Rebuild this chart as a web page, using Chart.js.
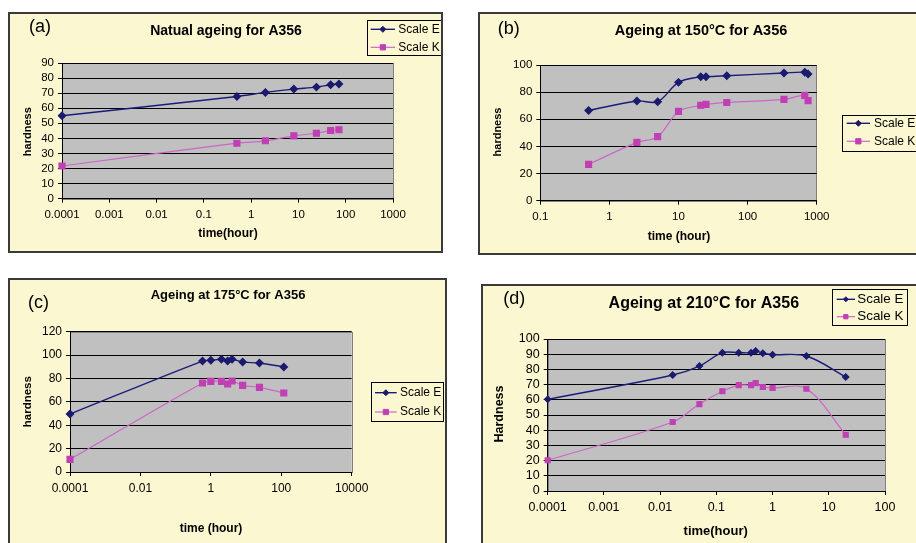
<!DOCTYPE html>
<html>
<head>
<meta charset="utf-8">
<script src="https://cdn.jsdelivr.net/npm/chart.js@4.4.0/dist/chart.umd.min.js"></script>
<style>
  body { margin: 0; width: 916px; height: 543px; overflow: hidden; background: #fff; position: relative; }
  .frame { position: absolute; border: 2px solid #3a3a3a; background: #fbf7d0; box-sizing: border-box; }
  .frame canvas { position: absolute; left: 0; top: 0; }
</style>
</head>
<body>
<div class="frame" id="fa"><canvas id="ca"></canvas></div>
<div class="frame" id="fb"><canvas id="cb"></canvas></div>
<div class="frame" id="fc"><canvas id="cc"></canvas></div>
<div class="frame" id="fd"><canvas id="cd"></canvas></div>
<script>
// (a) natural ageing
const timeA = [0.0001, 0.5, 2, 8, 24, 48, 72];
const scaleEA = [55, 67.8, 70.5, 72.7, 74, 75.6, 76];
const scaleKA = [21.7, 36.8, 38.4, 41.7, 43.4, 45.2, 45.7];
const xTicksA = [0.0001, 0.001, 0.01, 0.1, 1, 10, 100, 1000];

// (b) 150°C
const timeB = [0.5, 2.5, 5, 10, 21, 25, 50, 336, 672, 750];
const scaleEB = [66.5, 73.5, 73, 87.2, 91.4, 91.4, 92.1, 94.1, 94.7, 93.3];
const scaleKB = [26.8, 43, 47.2, 65.8, 70.3, 71, 72.4, 74.7, 77.6, 73.7];
const xTicksB = [0.1, 1, 10, 100, 1000];

// (c) 175°C
const timeC = [0.0001, 0.58, 1, 2, 3, 4, 8, 24, 118];
const scaleEC = [49.6, 94.9, 95.5, 96.4, 94.9, 96.4, 94, 93.2, 89.8];
const scaleKC = [10.8, 76.1, 77.5, 77.5, 75.3, 77.8, 74.1, 72.4, 67.6];
const xTicksC = [0.0001, 0.01, 1, 100, 10000];

// (d) 210°C
const timeD = [0.0001, 0.0167, 0.05, 0.128, 0.25, 0.414, 0.5, 0.67, 1, 4, 20];
const scaleED = [60.3, 76.3, 82.2, 91, 91, 91, 92.1, 90.6, 89.7, 88.8, 75];
const scaleKD = [20.2, 45.4, 57.2, 65.6, 69.7, 69.7, 71, 68.4, 67.8, 67.3, 37];
const xTicksD = [0.0001, 0.001, 0.01, 0.1, 1, 10, 100];

const seriesNames = ['Scale E', 'Scale K'];

Chart.defaults.font.family = '"Liberation Sans", Arial, sans-serif';
Chart.defaults.color = '#000';

const E_LINE = '#1c1c78', E_PT = '#1a1a6e';
const K_LINE = '#cc66c8', K_PT = '#c040b4';

// plot background, texts and the free-standing legend box
const decor = {
  id: 'decor',
  beforeDraw(chart, args, o) {
    const a = chart.chartArea, c = chart.ctx;
    c.save();
    c.fillStyle = '#c0c0c0';
    c.fillRect(a.left, a.top, a.right - a.left, a.bottom - a.top);
    c.strokeStyle = '#808080';
    c.lineWidth = 1;
    c.strokeRect(Math.round(a.left) + 0.5, Math.round(a.top) + 0.5, Math.round(a.right - a.left), Math.round(a.bottom - a.top));
    c.restore();
  },
  afterDraw(chart, args, o) {
    const c = chart.ctx, ox = o.ox, oy = o.oy;
    const F = '"Liberation Sans", Arial, sans-serif';
    c.save();
    c.fillStyle = '#000';
    c.textBaseline = 'middle';
    // panel label
    c.font = '18px ' + F;
    c.textAlign = 'left';
    c.fillText(o.label[0], o.label[1] - ox, o.label[2] - oy);
    // title
    c.font = 'bold ' + o.title[3] + 'px ' + F;
    c.textAlign = 'center';
    c.fillText(o.title[0], o.title[1] - ox, o.title[2] - oy);
    // x title
    c.font = 'bold ' + o.xTitle[3] + 'px ' + F;
    c.fillText(o.xTitle[0], o.xTitle[1] - ox, o.xTitle[2] - oy);
    // y title
    c.save();
    c.translate(o.yTitle[1] - ox, o.yTitle[2] - oy);
    c.rotate(-Math.PI / 2);
    c.font = 'bold ' + o.yTitle[3] + 'px ' + F;
    c.fillText(o.yTitle[0], 0, 0);
    c.restore();
    // legend
    const L = o.legend;
    c.fillStyle = '#fbf7d0';
    c.fillRect(L.x1 - ox, L.y1 - oy, L.x2 - L.x1, L.y2 - L.y1);
    c.strokeStyle = '#000';
    c.lineWidth = 1;
    c.strokeRect(Math.round(L.x1 - ox) + 0.5, Math.round(L.y1 - oy) + 0.5, Math.round(L.x2 - L.x1), Math.round(L.y2 - L.y1));
    chart.data.datasets.forEach((ds, i) => {
      const y = L.rows[i] - oy;
      c.strokeStyle = ds.borderColor;
      c.lineWidth = ds.borderWidth;
      c.beginPath();
      c.moveTo(L.lx1 - ox, y);
      c.lineTo(L.lx2 - ox, y);
      c.stroke();
      c.fillStyle = ds.pointBackgroundColor;
      c.strokeStyle = ds.pointBorderColor;
      c.lineWidth = 1;
      Chart.helpers.drawPoint(c, { pointStyle: ds.pointStyle, radius: ds.pointRadius - 0.5, rotation: 0, borderWidth: 1 }, (L.lx1 + L.lx2) / 2 - ox, y);
      c.fillStyle = '#000';
      c.font = L.size + 'px ' + F;
      c.textAlign = 'left';
      c.fillText(ds.label, L.tx - ox, y);
    });
    c.restore();
  }
};

function makeChart(id, p) {
  const frame = document.getElementById('f' + id);
  frame.style.left = p.frame.x + 'px';
  frame.style.top = p.frame.y + 'px';
  frame.style.width = p.frame.w + 'px';
  frame.style.height = p.frame.h + 'px';
  const W = p.frame.w - 4, H = p.frame.h - 4;
  const ox = p.frame.x + 2, oy = p.frame.y + 2;
  const canvas = document.getElementById('c' + id);
  canvas.width = W;
  canvas.height = H;
  const YW = 30, XH = 25;
  const pad = {
    left: p.plot.l - ox - YW,
    top: p.plot.t - oy,
    right: W - (p.plot.r - ox),
    bottom: H - (p.plot.b - oy) - XH
  };
  const tickFont = { size: p.tickSize };
  return new Chart(canvas.getContext('2d'), {
    type: 'line',
    data: {
      datasets: [
        {
          label: seriesNames[0],
          data: p.time.map((t, i) => ({ x: t, y: p.e[i] })),
          borderColor: E_LINE, borderWidth: 1.4,
          pointStyle: 'rectRot', pointRadius: p.eR,
          pointBackgroundColor: E_PT, pointBorderColor: E_PT,
          tension: 0.35, clip: false
        },
        {
          label: seriesNames[1],
          data: p.time.map((t, i) => ({ x: t, y: p.k[i] })),
          borderColor: K_LINE, borderWidth: 1.2,
          pointStyle: 'rect', pointRadius: p.kR,
          pointBackgroundColor: K_PT, pointBorderColor: K_PT,
          tension: 0.35, clip: false
        }
      ]
    },
    options: {
      responsive: false,
      animation: false,
      devicePixelRatio: 1,
      layout: { padding: pad },
      plugins: {
        legend: { display: false },
        tooltip: { enabled: false },
        decor: Object.assign({ ox: ox, oy: oy }, p.text)
      },
      scales: {
        x: {
          type: 'logarithmic',
          min: p.xTicks[0],
          max: p.xTicks[p.xTicks.length - 1],
          afterBuildTicks: s => { s.ticks = p.xTicks.map(v => ({ value: v })); },
          afterFit: s => { s.height = XH; },
          ticks: { callback: v => String(v), autoSkip: false, maxRotation: 0, padding: 5, font: tickFont },
          grid: { drawOnChartArea: false, drawTicks: true, tickLength: 4, color: '#000' },
          border: { color: '#000', width: 1 }
        },
        y: {
          min: 0,
          max: p.yMax,
          afterFit: s => { s.width = YW; },
          ticks: { stepSize: p.yStep, autoSkip: false, padding: 4, font: tickFont },
          grid: { color: '#000', tickLength: 4 },
          border: { color: '#000', width: 1 }
        }
      }
    },
    plugins: [decor]
  });
}

makeChart('a', {
  frame: { x: 8, y: 12, w: 435, h: 241 },
  plot: { l: 62, r: 393, t: 63, b: 198.7 },
  time: timeA, e: scaleEA, k: scaleKA, xTicks: xTicksA, yMax: 90, yStep: 10,
  tickSize: 11.5, eR: 3.5, kR: 4.2,
  text: {
    label: ['(a)', 29, 27],
    title: ['Natual ageing for A356', 226, 30.7, 14],
    xTitle: ['time(hour)', 228, 233.3, 12],
    yTitle: ['hardness', 28.3, 131.7, 11],
    legend: { x1: 367, y1: 20, x2: 443, y2: 55, rows: [29.3, 47.3], lx1: 370.7, lx2: 395, tx: 398.3, size: 12 }
  }
});

makeChart('b', {
  frame: { x: 478, y: 12, w: 460, h: 243 },
  plot: { l: 540.3, r: 816.7, t: 65, b: 200.7 },
  time: timeB, e: scaleEB, k: scaleKB, xTicks: xTicksB, yMax: 100, yStep: 20,
  tickSize: 11.5, eR: 3.5, kR: 4.2,
  text: {
    label: ['(b)', 497.7, 29],
    title: ['Ageing at 150°C for A356', 701, 30.7, 14.5],
    xTitle: ['time (hour)', 679, 236.7, 12],
    yTitle: ['hardness', 498.3, 132, 11],
    legend: { x1: 841.7, y1: 115, x2: 935, y2: 150.7, rows: [123.3, 141.3], lx1: 846.7, lx2: 870, tx: 874, size: 12 }
  }
});

makeChart('c', {
  frame: { x: 8, y: 278, w: 439, h: 280 },
  plot: { l: 70, r: 351.7, t: 331.7, b: 472 },
  time: timeC, e: scaleEC, k: scaleKC, xTicks: xTicksC, yMax: 120, yStep: 20,
  tickSize: 12, eR: 3.5, kR: 4.2,
  text: {
    label: ['(c)', 28, 303.3],
    title: ['Ageing at 175°C for A356', 228, 295.7, 13],
    xTitle: ['time (hour)', 211, 528.3, 12],
    yTitle: ['hardness', 28, 401.7, 11.5],
    legend: { x1: 371, y1: 381.7, x2: 443, y2: 420.7, rows: [392.7, 412], lx1: 375, lx2: 396.7, tx: 400, size: 12 }
  }
});

makeChart('d', {
  frame: { x: 481, y: 284, w: 460, h: 280 },
  plot: { l: 547.7, r: 885, t: 339, b: 491 },
  time: timeD, e: scaleED, k: scaleKD, xTicks: xTicksD, yMax: 100, yStep: 10,
  tickSize: 12.5, eR: 3, kR: 3.5,
  text: {
    label: ['(d)', 503.3, 299.3],
    title: ['Ageing at 210°C for A356', 703.8, 303.3, 16],
    xTitle: ['time(hour)', 715.7, 531.7, 13],
    yTitle: ['Hardness', 500, 414, 12.5],
    legend: { x1: 831.7, y1: 289.3, x2: 907, y2: 325, rows: [299.3, 316.7], lx1: 836.7, lx2: 855, tx: 857.3, size: 13.4 }
  }
});
</script>
</body>
</html>
